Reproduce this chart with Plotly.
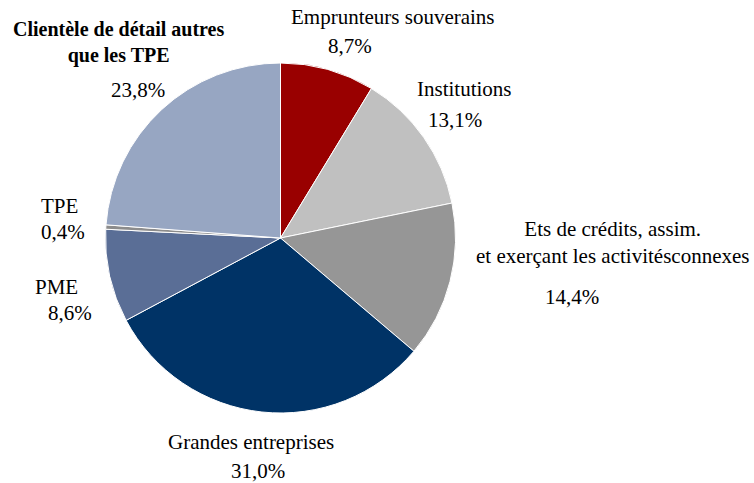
import plotly.graph_objects as go

W, H = 754, 483

categories = [
    "Emprunteurs souverains",
    "Institutions",
    "Ets de crédits, assim.<br>et exerçant les activitésconnexes",
    "Grandes entreprises",
    "PME",
    "TPE",
    "<b>Clientèle de détail autres<br>que les TPE</b>",
]
values = [8.7, 13.1, 14.4, 31.0, 8.6, 0.4, 23.8]
colors = ["#990000", "#c0c0c0", "#969696", "#003366", "#5a6e96", "#8c8c8c", "#97a6c2"]

# label anchor points (pixels): name centre, percentage centre
name_pos = [(393, 17), (464, 89), (612, 243), (251, 442), (57, 287), (59, 206), (118, 43)]
pct_pos = [(350, 46), (455, 120), (572, 297), (258, 471), (70, 313), (63, 232), (138, 90)]
name_size = [21, 21, 21, 21, 21, 21, 20]


def fmt(v):
    return f"{v:.1f}".replace(".", ",") + "%"


def px(x, y):
    return x / W, 1 - y / H


fig = go.Figure(
    go.Pie(
        values=values,
        labels=[c.replace("<br>", " ").replace("<b>", "").replace("</b>", "") for c in categories],
        marker=dict(colors=colors, line=dict(color="white", width=1)),
        sort=False,
        direction="clockwise",
        rotation=0,
        textinfo="none",
        hoverinfo="label+percent",
        domain=dict(x=[105 / W, 456 / W], y=[1 - 413 / H, 1 - 63 / H]),
        showlegend=False,
    )
)

FAMILY = "Liberation Serif"
annotations = []
for cat, v, (nx, ny), (qx, qy), fs in zip(categories, values, name_pos, pct_pos, name_size):
    ax, ay = px(nx, ny)
    annotations.append(dict(text=cat, x=ax, y=ay, xref="paper", yref="paper",
                            xanchor="center", yanchor="middle", showarrow=False,
                            font=dict(family=FAMILY, size=fs, color="#000000")))
    bx, by = px(qx, qy)
    annotations.append(dict(text=fmt(v), x=bx, y=by, xref="paper", yref="paper",
                            xanchor="center", yanchor="middle", showarrow=False,
                            font=dict(family=FAMILY, size=21, color="#000000")))

fig.update_layout(
    width=W, height=H,
    margin=dict(l=0, r=0, t=0, b=0),
    paper_bgcolor="white", plot_bgcolor="white",
    font=dict(family=FAMILY),
    annotations=annotations,
)

fig.write_html("out.html")
